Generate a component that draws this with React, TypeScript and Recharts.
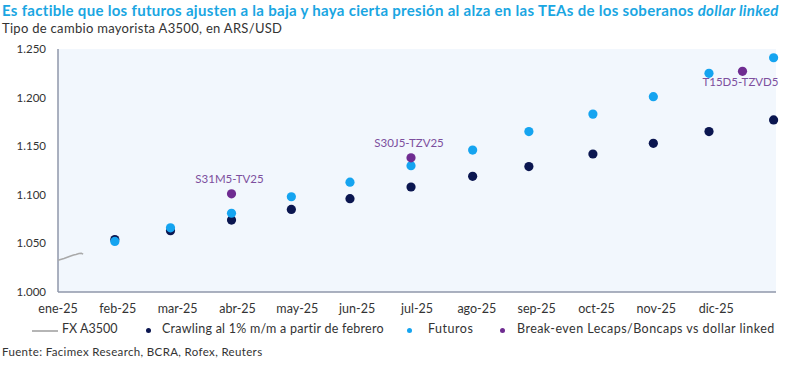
import React from 'react';
import {
  ScatterChart,
  Scatter,
  XAxis,
  YAxis,
  CartesianGrid,
} from 'recharts';

// month labels on the x axis (index 0 = ene-25)
const monthLabels = ['ene-25', 'feb-25', 'mar-25', 'abr-25', 'may-25', 'jun-25', 'jul-25', 'ago-25', 'sep-25', 'oct-25', 'nov-25', 'dic-25'];
const yTicks = [1000, 1050, 1100, 1150, 1200, 1250];

// FX A3500, first days of January (position in months, value)
const fxPos = [0, 0.1, 0.2, 0.26, 0.3, 0.35, 0.39, 0.42];
const fxValues = [1032.7, 1034.5, 1036.8, 1038.0, 1038.6, 1039.6, 1039.8, 1038.9];

// monthly points (position in months)
const pointPos = [0.95, 1.88, 2.9, 3.9, 4.88, 5.9, 6.93, 7.87, 8.94, 9.95, 10.88, 11.96];
const crawling = [1054, 1063, 1074, 1085, 1096, 1108, 1119, 1129, 1142, 1153, 1165, 1177];
const futuros = [1052, 1066, 1081, 1098, 1113, 1130, 1146, 1165, 1183, 1201, 1225, 1241];

// break-even Lecaps/Boncaps vs dollar linked
const bePos = [2.9, 5.9, 11.44];
const beValues = [1101, 1138, 1227];
const beLabels = ['S31M5-TV25', 'S30J5-TZV25', 'T15D5-TZVD5'];

const fxData = fxPos.map((x, i) => ({ x, y: fxValues[i] }));
const crawlingData = pointPos.map((x, i) => ({ x, y: crawling[i] }));
const futurosData = pointPos.map((x, i) => ({ x, y: futuros[i] }));
const beData = bePos.map((x, i) => ({ x, y: beValues[i], label: beLabels[i] }));

const FONT = 'Lato, "Open Sans", sans-serif';
const NAVY = '#0b1650';
const SKY = '#15a4f0';
const PURPLE = '#6f2c91';

const fmtThousands = (v: number) => {
  const s = String(Math.round(v));
  return s.length > 3 ? s.slice(0, s.length - 3) + '.' + s.slice(-3) : s;
};

const Dot = (color: string) => (props: any) => {
  const { cx, cy } = props;
  return <circle cx={cx} cy={cy} r={4.6} fill={color} />;
};

const Nothing = () => <g />;

const BreakEvenDot = (props: any) => {
  const { cx, cy, payload } = props;
  // last label sits under its point, the others above
  const below = payload.label === 'T15D5-TZVD5';
  return (
    <g>
      <circle cx={cx} cy={cy} r={4.6} fill={PURPLE} />
      <text
        x={cx - 2}
        y={below ? cy + 15 : cy - 11}
        textAnchor="middle"
        fontSize={11.5}
        fontFamily={FONT}
        fill="#7d4f9e"
      >
        {payload.label}
      </text>
    </g>
  );
};

const legendText: React.CSSProperties = {
  position: 'absolute',
  top: 321,
  fontSize: 12.5,
  letterSpacing: 0.5,
  color: '#333',
  whiteSpace: 'nowrap',
};

const LegendDot = ({ color, x }: { color: string; x: number }) => (
  <span style={{ position: 'absolute', left: x - 2.5, top: 328, width: 5, height: 5, borderRadius: 3, background: color }} />
);

export default function App() {
  return (
    <div style={{ position: 'absolute', left: 0, top: 0, width: 800, height: 371, background: '#fff', fontFamily: FONT }}>
      <div style={{ position: 'absolute', left: 2, top: 1, fontSize: 15, letterSpacing: 0.3, fontWeight: 700, color: '#1aa6e2', whiteSpace: 'nowrap' }}>
        Es factible que los futuros ajusten a la baja y haya cierta presión al alza en las TEAs de los soberanos <i>dollar linked</i>
      </div>
      <div style={{ position: 'absolute', left: 2, top: 20, fontSize: 13, letterSpacing: 0.3, color: '#333', whiteSpace: 'nowrap' }}>
        Tipo de cambio mayorista A3500, en ARS/USD
      </div>

      <div style={{ position: 'absolute', left: 0, top: 0 }}>
        <ScatterChart width={800} height={320} margin={{ top: 49, right: 24, bottom: 0, left: 0 }}>
          <CartesianGrid horizontal={false} vertical={false} fill="#f2f7fd" />
          <XAxis
            type="number"
            dataKey="x"
            domain={[0, 12]}
            ticks={monthLabels.map((_, i) => i)}
            tickFormatter={(v: number) => monthLabels[v] ?? ''}
            height={28}
            tickLine={false}
            axisLine={{ stroke: '#8f97aa', strokeWidth: 1.5 }}
            tick={{ fontSize: 12.5, fill: '#333', fontFamily: FONT }}
            tickMargin={6}
            interval={0}
          />
          <YAxis
            type="number"
            dataKey="y"
            domain={[1000, 1250]}
            ticks={yTicks}
            tickFormatter={fmtThousands}
            width={58}
            tickLine={false}
            axisLine={{ stroke: '#8f97aa', strokeWidth: 1.5 }}
            tick={{ fontSize: 11.5, fill: '#333', fontFamily: FONT }}
            tickMargin={6}
          />
          <Scatter
            data={fxData}
            line={{ stroke: '#a9a9a9', strokeWidth: 1.5 }}
            shape={Nothing}
            isAnimationActive={false}
          />
          <Scatter data={crawlingData} shape={Dot(NAVY)} isAnimationActive={false} />
          <Scatter data={futurosData} shape={Dot(SKY)} isAnimationActive={false} />
          <Scatter data={beData} shape={BreakEvenDot} isAnimationActive={false} />
        </ScatterChart>
      </div>

      <span style={{ position: 'absolute', left: 32, top: 330, width: 26, height: 2, background: '#b5b5b5' }} />
      <span style={{ ...legendText, left: 62, letterSpacing: 0 }}>FX A3500</span>
      <LegendDot color={NAVY} x={148} />
      <span style={{ ...legendText, left: 162, letterSpacing: 0.25 }}>Crawling al 1% m/m a partir de febrero</span>
      <LegendDot color={SKY} x={409} />
      <span style={{ ...legendText, left: 428 }}>Futuros</span>
      <LegendDot color={PURPLE} x={502} />
      <span style={{ ...legendText, left: 517, letterSpacing: 0.45 }}>Break-even Lecaps/Boncaps vs dollar linked</span>

      <div style={{ position: 'absolute', left: 2, top: 345, fontSize: 11.5, letterSpacing: 0.35, color: '#333', whiteSpace: 'nowrap' }}>
        Fuente: Facimex Research, BCRA, Rofex, Reuters
      </div>
    </div>
  );
}
